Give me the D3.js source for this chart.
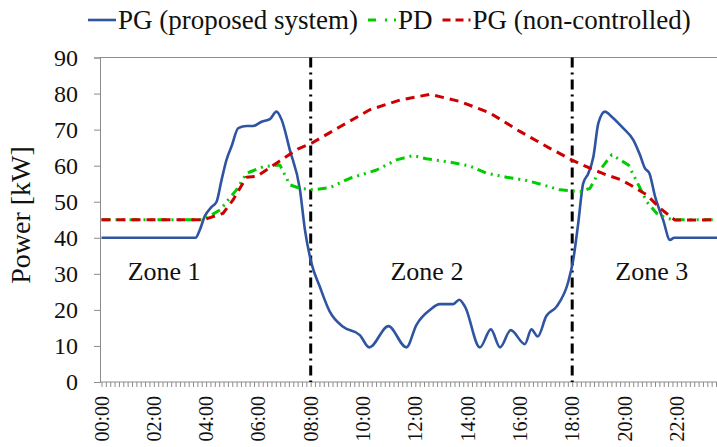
<!DOCTYPE html>
<html>
<head>
<meta charset="utf-8">
<script src="https://cdn.jsdelivr.net/npm/d3@7"></script>
<style>
  body { margin: 0; background: #fff; }
  text { font-family: "Liberation Serif", "Times New Roman", serif; fill: #111; }
</style>
</head>
<body>
<div id="chart"></div>
<script>
const WIDTH = 717;
const HEIGHT = 447;

// hours of day and power [kW]
const pgTimes  = [0, 3.6, 3.75, 3.95, 4.2, 4.4, 4.59, 4.78, 4.97, 5.23, 5.55, 5.8, 6.12, 6.44, 6.69, 6.89, 7.2, 7.59, 7.78, 8.03, 8.35, 8.73, 9.24, 9.88, 10.24, 10.97, 11.66, 12.04, 12.56, 12.94, 13.45, 13.68, 13.9, 14.47, 14.89, 15.24, 15.65, 16.19, 16.44, 16.68, 17.01, 17.4, 17.85, 18.04, 18.23, 18.42, 18.62, 18.81, 19.0, 19.25, 19.51, 19.95, 20.34, 20.59, 20.78, 20.95, 21.17, 21.48, 21.74, 21.9, 24];
const pgValues = [40, 40, 42, 46, 48.5, 50, 56, 61.6, 65.3, 70.4, 71, 71, 72.2, 72.9, 75, 72.7, 64.4, 53.3, 42.2, 32.9, 26.4, 19.5, 15.3, 13, 9.6, 15.5, 9.6, 15.8, 20, 21.6, 21.6, 22.8, 20.9, 9.6, 14.6, 9.6, 14.4, 10.5, 14.6, 12.6, 18.3, 20.9, 27.8, 33.9, 44, 55.1, 57.9, 62.5, 71.8, 75, 73.6, 70.4, 67.1, 63, 59.3, 57.9, 51.4, 44.9, 39.4, 40, 40];

const pdTimes  = [0, 3.89, 4.53, 5.16, 5.55, 6.18, 6.82, 7.2, 7.59, 8.1, 8.73, 9.5, 10.52, 11.28, 11.92, 12.42, 13.32, 14.09, 14.72, 15.49, 16.26, 17.01, 17.53, 18.3, 18.68, 19.06, 19.51, 19.83, 20.15, 20.47, 20.85, 21.23, 21.61, 21.9, 24];
const pdValues = [45, 45, 47.7, 53.3, 57.9, 59.7, 60.2, 54.7, 53.7, 53.3, 53.9, 56.5, 58.8, 61.6, 62.8, 61.9, 61, 59.9, 57.9, 56.8, 55.9, 54.4, 53.3, 52.8, 53.7, 58.8, 63, 61.6, 60.2, 55.6, 50, 46.8, 45.4, 45, 45];

const ncTimes  = [0, 3.9, 4.65, 5.03, 5.54, 5.93, 6.69, 7.5, 8.03, 9.12, 10.26, 11.41, 12.56, 13.71, 14.86, 16.0, 17.15, 17.98, 18.68, 19.32, 19.83, 20.21, 20.85, 21.36, 21.93, 24];
const ncValues = [45, 45, 46.8, 50.5, 56.8, 57, 60.7, 64.6, 66.2, 70.8, 75.5, 78.2, 79.8, 77.8, 74.6, 69.5, 64.8, 61.6, 59.3, 57.4, 56.2, 54.7, 51.9, 48.2, 44.9, 45];

const yTicks = [0, 10, 20, 30, 40, 50, 60, 70, 80, 90];
const xTickHours = [0, 2, 4, 6, 8, 10, 12, 14, 16, 18, 20, 22];
const zoneBounds = [8, 18];
const zoneLabels = ["Zone 1", "Zone 2", "Zone 3"];
const zoneLabelHours = [1, 11.05, 19.65];
const legendLabels = ["PG (proposed system)", "PD", "PG (non-controlled)"];

const BLUE = "#2f54a0";
const GREEN = "#00cc00";
const RED = "#cc0000";
const AXIS = "#8c8c8c";

const svg = d3.select("#chart")
    .append("svg")
    .attr("width", WIDTH)
    .attr("height", HEIGHT);

svg.append("rect").attr("width", WIDTH).attr("height", HEIGHT).attr("fill", "#fff");

const x = d3.scaleLinear().domain([0, 24]).range([101.5, 101.5 + 24 * 26.15]);
const y = d3.scaleLinear().domain([0, 90]).range([382, 57.5]);

// plot frame (top edge) and y axis
svg.append("line")
    .attr("x1", x(0) - 1.5).attr("x2", WIDTH)
    .attr("y1", y(90)).attr("y2", y(90))
    .attr("stroke", AXIS).attr("stroke-width", 1);

const yAxis = svg.append("g")
    .attr("transform", `translate(${x(0) - 1.5},0)`)
    .call(d3.axisLeft(y).tickValues(yTicks).tickSize(6).tickPadding(16));
yAxis.select(".domain").attr("stroke", AXIS);
yAxis.selectAll(".tick line").attr("stroke", AXIS);
yAxis.selectAll(".tick text")
    .attr("font-size", 24)
    .attr("font-family", "Liberation Serif, serif")
    .attr("fill", "#111");

// x axis: minor ticks every 10 min
const minorTicks = d3.range(0, 24 * 6 + 1).map(i => i / 6);
const xAxis = svg.append("g")
    .attr("transform", `translate(0,${y(0)})`)
    .call(d3.axisBottom(x).tickValues(minorTicks).tickSize(5).tickFormat(""));
xAxis.select(".domain").attr("stroke", AXIS).attr("d", `M${x(0) - 1.5},0H${WIDTH + 20}`);
xAxis.selectAll(".tick line").attr("stroke", AXIS);

svg.append("g")
    .selectAll("text")
    .data(xTickHours)
    .join("text")
    .attr("transform", d => `translate(${x(d)},${y(0) + 14}) rotate(-90)`)
    .attr("text-anchor", "end")
    .attr("dy", "0.35em")
    .attr("font-size", 20)
    .text(d => d3.format("02d")(d) + ":00");

// y axis title
svg.append("text")
    .attr("transform", "translate(30,215) rotate(-90)")
    .attr("text-anchor", "middle")
    .attr("font-size", 28)
    .text("Power [kW]");

// zone separators
svg.append("g")
    .selectAll("line")
    .data(zoneBounds)
    .join("line")
    .attr("x1", d => x(d)).attr("x2", d => x(d))
    .attr("y1", y(90)).attr("y2", y(0))
    .attr("stroke", "#000")
    .attr("stroke-width", 3)
    .attr("stroke-dasharray", "10,5,2,5");

svg.append("g")
    .selectAll("text")
    .data(zoneLabels)
    .join("text")
    .attr("x", (d, i) => x(zoneLabelHours[i]))
    .attr("y", 280)
    .attr("font-size", 26)
    .text(d => d);

// series
const series = [
    { times: pgTimes, values: pgValues, color: BLUE, dash: null, width: 2.6, curve: d3.curveMonotoneX },
    { times: pdTimes, values: pdValues, color: GREEN, dash: "9,5,2,5,2,5", width: 3, curve: d3.curveLinear },
    { times: ncTimes, values: ncValues, color: RED, dash: "9,6", width: 3, curve: d3.curveLinear }
];

const plot = svg.append("g");
series.forEach(s => {
    const pts = s.times.map((t, i) => [t, s.values[i]]);
    const line = d3.line()
        .x(d => x(d[0]))
        .y(d => y(d[1]))
        .curve(s.curve);
    plot.append("path")
        .datum(pts)
        .attr("fill", "none")
        .attr("stroke", s.color)
        .attr("stroke-width", s.width)
        .attr("stroke-dasharray", s.dash)
        .attr("stroke-linejoin", "round")
        .attr("d", line);
});

// legend
const legend = svg.append("g");
let cx = 88;
legendLabels.forEach((lab, i) => {
    const s = series[i];
    legend.append("line")
        .attr("x1", cx).attr("x2", cx + 28)
        .attr("y1", 20).attr("y2", 20)
        .attr("stroke", s.color)
        .attr("stroke-width", s.width)
        .attr("stroke-dasharray", s.dash ? (i === 1 ? "8,9,2,7" : "8,5") : null);
    const t = legend.append("text")
        .attr("x", cx + 30)
        .attr("y", 29)
        .attr("font-size", 27)
        .text(lab);
    cx += 30 + t.node().getComputedTextLength() + 10;
});
</script>
</body>
</html>
